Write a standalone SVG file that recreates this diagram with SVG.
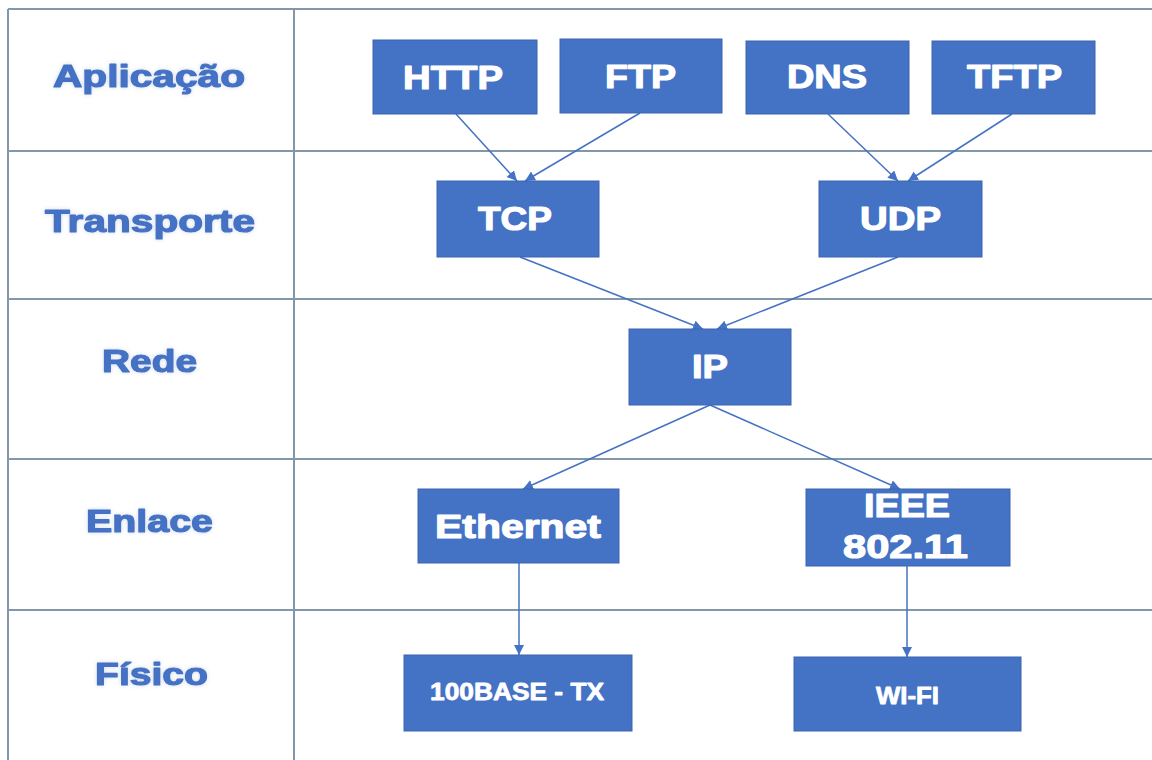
<svg xmlns="http://www.w3.org/2000/svg" width="1152" height="760" viewBox="0 0 1152 760">
  <style>
    .grid { stroke: #8297aa; stroke-width: 2; fill: none; }
    .lbl { font-family: "Liberation Sans", Arial, sans-serif; font-weight: bold; font-size: 32px; fill: #4472C4; stroke: #4472C4; stroke-width: 1.2; stroke-linejoin: round; }
    .box { fill: #4472C4; stroke: #3b65b0; stroke-width: 1; }
    .bt { font-family: "Liberation Sans", Arial, sans-serif; font-weight: bold; font-size: 34px; fill: #ffffff; stroke: #ffffff; stroke-width: 1.2; stroke-linejoin: round; }
    .bs { font-family: "Liberation Sans", Arial, sans-serif; font-weight: bold; font-size: 23px; fill: #ffffff; stroke: #ffffff; stroke-width: 0.8; stroke-linejoin: round; }
    .conn { stroke: #4472C4; stroke-width: 1.5; fill: none; marker-end: url(#arr); }
  </style>
  <defs>
    <marker id="arr" markerUnits="userSpaceOnUse" markerWidth="12" markerHeight="12" refX="10" refY="5" orient="auto">
      <path d="M0,0 L10,5 L0,10 Z" fill="#4472C4"/>
    </marker>
    <filter id="glow" x="-10%" y="-30%" width="120%" height="160%">
      <feGaussianBlur in="SourceAlpha" stdDeviation="2" result="b"/>
      <feFlood flood-color="#9fb3d6" flood-opacity="0.5"/>
      <feComposite in2="b" operator="in" result="s"/>
      <feMerge><feMergeNode in="s"/><feMergeNode in="SourceGraphic"/></feMerge>
    </filter>
  </defs>
  <rect width="1152" height="760" fill="#ffffff"/>
  <g id="grid" class="grid">
    <line x1="8" y1="9" x2="8" y2="760"/>
    <line x1="294" y1="9" x2="294" y2="760"/>
    <line x1="8" y1="9" x2="1152" y2="9"/>
    <line x1="8" y1="151" x2="1152" y2="151"/>
    <line x1="8" y1="299" x2="1152" y2="299"/>
    <line x1="8" y1="459" x2="1152" y2="459"/>
    <line x1="8" y1="610" x2="1152" y2="610"/>
  </g>
  <g id="layer-labels" filter="url(#glow)">
    <text class="lbl" x="53" y="87" textLength="192" lengthAdjust="spacingAndGlyphs">Aplicação</text>
    <text class="lbl" x="45" y="232" textLength="210" lengthAdjust="spacingAndGlyphs">Transporte</text>
    <text class="lbl" x="102" y="372" textLength="95" lengthAdjust="spacingAndGlyphs">Rede</text>
    <text class="lbl" x="86" y="532" textLength="127" lengthAdjust="spacingAndGlyphs">Enlace</text>
    <text class="lbl" x="95" y="685" textLength="113" lengthAdjust="spacingAndGlyphs">Físico</text>
  </g>
  <g id="connectors">
    <line class="conn" x1="456" y1="114" x2="517" y2="181"/>
    <line class="conn" x1="640" y1="113" x2="525" y2="181"/>
    <line class="conn" x1="828" y1="114" x2="898" y2="181"/>
    <line class="conn" x1="1012" y1="114" x2="908" y2="181"/>
    <line class="conn" x1="520" y1="257" x2="703" y2="329"/>
    <line class="conn" x1="898" y1="257" x2="717" y2="329"/>
    <line class="conn" x1="710" y1="405" x2="523" y2="489"/>
    <line class="conn" x1="710" y1="405" x2="900" y2="489"/>
    <line class="conn" x1="519" y1="563" x2="519" y2="655"/>
    <line class="conn" x1="907" y1="566" x2="907" y2="657"/>
  </g>
  <g id="http"><rect class="box" x="373" y="40" width="164" height="74"/><text class="bt" x="403" y="89" textLength="100" lengthAdjust="spacingAndGlyphs">HTTP</text></g>
  <g id="ftp"><rect class="box" x="560" y="39" width="162" height="74"/><text class="bt" x="605" y="88" textLength="71" lengthAdjust="spacingAndGlyphs">FTP</text></g>
  <g id="dns"><rect class="box" x="746" y="41" width="163" height="73"/><text class="bt" x="787" y="88" textLength="80" lengthAdjust="spacingAndGlyphs">DNS</text></g>
  <g id="tftp"><rect class="box" x="932" y="41" width="163" height="73"/><text class="bt" x="967" y="88" textLength="95" lengthAdjust="spacingAndGlyphs">TFTP</text></g>
  <g id="tcp"><rect class="box" x="437" y="181" width="162" height="76"/><text class="bt" x="478" y="230" textLength="74" lengthAdjust="spacingAndGlyphs">TCP</text></g>
  <g id="udp"><rect class="box" x="819" y="181" width="163" height="76"/><text class="bt" x="860" y="230" textLength="81" lengthAdjust="spacingAndGlyphs">UDP</text></g>
  <g id="ip"><rect class="box" x="629" y="329" width="162" height="76"/><text class="bt" x="692" y="378" textLength="36" lengthAdjust="spacingAndGlyphs">IP</text></g>
  <g id="ethernet"><rect class="box" x="418" y="489" width="201" height="74"/><text class="bt" x="435" y="538" textLength="166" lengthAdjust="spacingAndGlyphs">Ethernet</text></g>
  <g id="ieee"><rect class="box" x="806" y="489" width="204" height="77"/><text class="bt" x="864" y="517" textLength="86" lengthAdjust="spacingAndGlyphs">IEEE</text><text class="bt" x="843" y="558" textLength="125" lengthAdjust="spacingAndGlyphs">802.11</text></g>
  <g id="base100tx"><rect class="box" x="404" y="655" width="228" height="76"/><text class="bs" x="430" y="700" textLength="174" lengthAdjust="spacingAndGlyphs">100BASE - TX</text></g>
  <g id="wifi"><rect class="box" x="794" y="657" width="227" height="74"/><text class="bs" x="876" y="704" textLength="63" lengthAdjust="spacingAndGlyphs">WI-FI</text></g>
</svg>
